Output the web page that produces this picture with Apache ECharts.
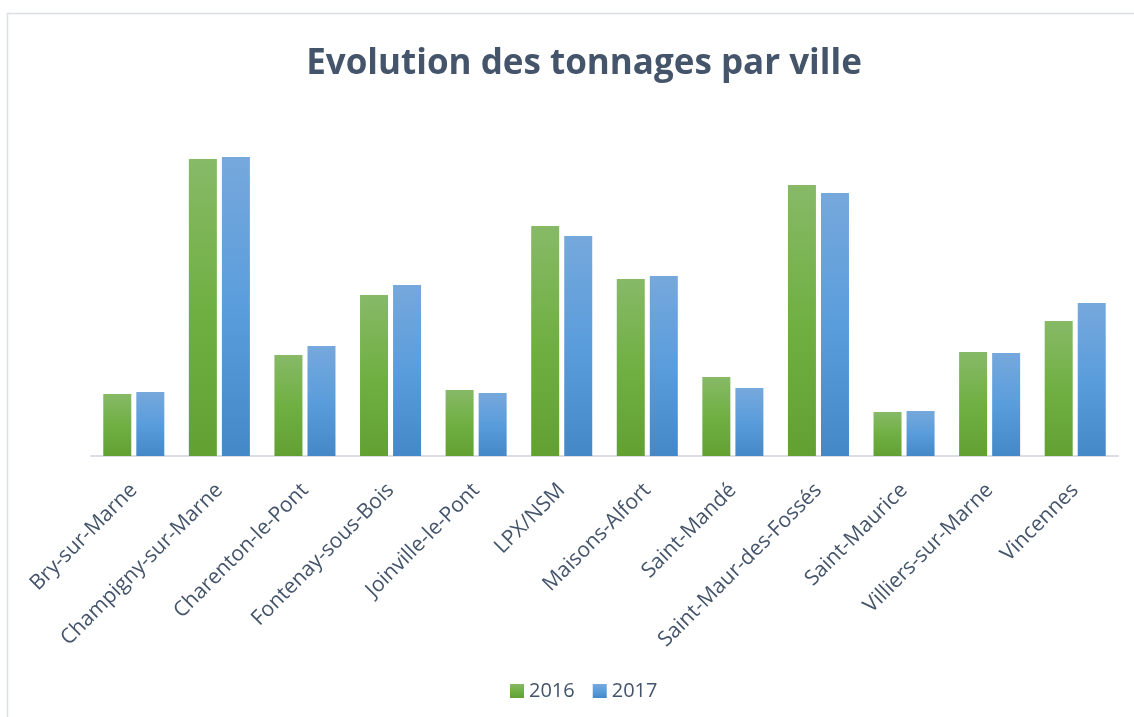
<!DOCTYPE html>
<html>
<head>
<meta charset="utf-8">
<script src="https://cdn.jsdelivr.net/npm/echarts@6/dist/echarts.min.js"></script>
<style>
  html, body { margin: 0; padding: 0; background: #fff; }
  #chart { width: 1134px; height: 717px; }
</style>
</head>
<body>
<div id="chart"></div>
<script>
const villes = [
  'Bry-sur-Marne', 'Champigny-sur-Marne', 'Charenton-le-Pont', 'Fontenay-sous-Bois',
  'Joinville-le-Pont', 'LPX/NSM', 'Maisons-Alfort', 'Saint-Mandé',
  'Saint-Maur-des-Fossés', 'Saint-Maurice', 'Villiers-sur-Marne', 'Vincennes'
]
const tonnes2016 = [62, 297, 101, 161, 66, 230, 177, 79, 271, 44, 104, 135]
const tonnes2017 = [64, 299, 110, 171, 63, 220, 180, 68, 263, 45, 103, 153]

const chart = echarts.init(document.getElementById('chart'))

const grad = (top, mid, bottom) => new echarts.graphic.LinearGradient(0, 0, 0, 1, [
  { offset: 0, color: top },
  { offset: 0.5, color: mid },
  { offset: 1, color: bottom }
])

const option = {
  animation: false,
  textStyle: { fontFamily: 'Open Sans' },
  graphic: [
    {
      type: 'rect',
      silent: true,
      shape: { x: 7.5, y: 13.5, width: 1200, height: 800 },
      style: { fill: 'none', stroke: '#dcdfe4', lineWidth: 1.5 }
    }
  ],
  title: {
    text: 'Evolution des tonnages par ville',
    left: 579,
    textAlign: 'center',
    top: 42,
    textStyle: {
      color: '#44546a',
      fontSize: 35,
      fontWeight: 'bold',
      fontFamily: 'Open Sans'
    }
  },
  legend: {
    data: ['2016', '2017'],
    left: 505,
    top: 676,
    itemWidth: 14,
    itemHeight: 14,
    itemGap: 18,
    icon: 'rect',
    textStyle: { color: '#44546a', fontSize: 20 }
  },
  grid: {
    left: 91,
    right: 16,
    top: 156,
    bottom: 261
  },
  xAxis: {
    type: 'category',
    data: villes,
    axisLine: { lineStyle: { color: '#dadee4', width: 2 } },
    axisTick: { show: false },
    axisLabel: {
      rotate: 45,
      interval: 0,
      margin: 31,
      color: '#44546a',
      fontSize: 21
    }
  },
  yAxis: {
    type: 'value',
    min: 0,
    max: 300,
    show: false,
    splitLine: { show: false }
  },
  series: [
    {
      name: '2016',
      type: 'bar',
      data: tonnes2016,
      barWidth: 28,
      barGap: '18%',
      itemStyle: { color: grad('#87b967', '#70b043', '#62a032') }
    },
    {
      name: '2017',
      type: 'bar',
      data: tonnes2017,
      barWidth: 28,
      itemStyle: { color: grad('#76a8dc', '#5a9ddc', '#4588c7') }
    }
  ]
}

chart.setOption(option)
</script>
</body>
</html>
